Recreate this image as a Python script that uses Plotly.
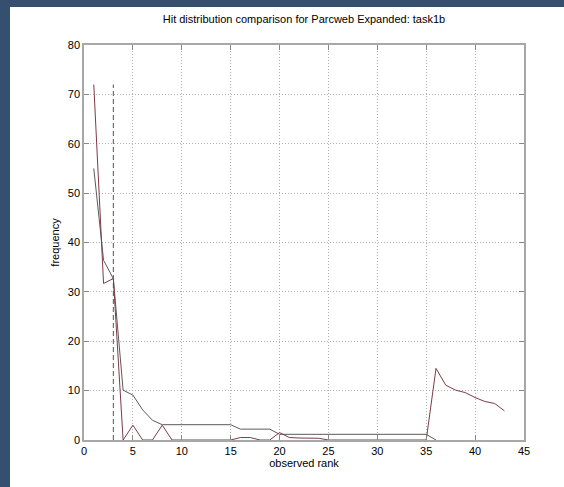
import plotly.graph_objects as go

# Data
rank_red = list(range(1, 44))
freq_red = [72, 31.7, 32.7, 0, 3, 0, 0, 3, 0, 0,
            0, 0, 0, 0, 0, 0.5, 0.5, 0, 0, 1.5,
            0.5, 0.4, 0.4, 0.35, 0, 0, 0, 0, 0, 0,
            0, 0, 0, 0, 0, 14.5, 11.1, 10.1, 9.6, 8.6,
            7.8, 7.4, 5.9]

rank_gray = list(range(1, 37))
freq_gray = [55, 36.4, 32.7, 10.1, 9.1, 6.1, 4, 3.1, 3.1, 3.1,
             3.1, 3.1, 3.1, 3.1, 3.1, 2.2, 2.2, 2.2, 2.2, 1.15,
             1.15, 1.15, 1.15, 1.15, 1.15, 1.15, 1.15, 1.15, 1.15, 1.15,
             1.15, 1.15, 1.15, 1.15, 1.15, 0]

cutoff_x = [3, 3]
cutoff_y = [0, 72]

x_ticks = [0, 5, 10, 15, 20, 25, 30, 35, 40, 45]
y_ticks = [0, 10, 20, 30, 40, 50, 60, 70, 80]

W, H = 564, 487
L, R, T, B = 84, 524, 45, 440
FONT = "Liberation Sans, Arial, sans-serif"

fig = go.Figure()
fig.add_trace(go.Scatter(x=rank_gray, y=freq_gray, mode="lines",
                         line=dict(color="#5a5a5a", width=1), showlegend=False))
fig.add_trace(go.Scatter(x=rank_red, y=freq_red, mode="lines",
                         line=dict(color="#7d3b47", width=1), showlegend=False))
fig.add_trace(go.Scatter(x=cutoff_x, y=cutoff_y, mode="lines",
                         line=dict(color="#555555", width=1, dash="5px,3px"), showlegend=False))

def px2paper_x(px):
    return (px - L) / (R - L)

def px2paper_y(py):
    return (B - py) / (B - T)

fig.add_shape(type="rect", xref="paper", yref="paper",
              x0=px2paper_x(10), x1=px2paper_x(W + 10),
              y0=px2paper_y(H + 10), y1=px2paper_y(7),
              fillcolor="white", line=dict(width=0), layer="below")

axis_common = dict(showgrid=True, gridcolor="#b0b0b0", griddash="1px,2px", gridwidth=1,
                   showline=True, linecolor="#a8a8a8", linewidth=1.5, mirror="ticks",
                   ticks="inside", ticklen=5, tickcolor="#888888", zeroline=False,
                   tickfont=dict(family=FONT, size=11, color="black"))

fig.update_layout(
    width=W, height=H,
    margin=dict(l=L, r=W - R, t=T, b=H - B, pad=0),
    paper_bgcolor="#34506e",
    plot_bgcolor="white",
    title=dict(text="Hit distribution comparison for Parcweb Expanded: task1b",
               x=(L + R) / 2 / W, xanchor="center", y=1 - 19 / H, yanchor="middle",
               font=dict(family=FONT, size=11, color="black")),
    xaxis=dict(range=[0, 45], tickvals=x_ticks, ticktext=[str(v) for v in x_ticks],
               title=dict(text="observed rank", standoff=3,
                          font=dict(family=FONT, size=11, color="black")),
               **axis_common),
    yaxis=dict(range=[0, 80], tickvals=y_ticks, ticktext=[str(v) for v in y_ticks],
               title=dict(text="frequency", standoff=6,
                          font=dict(family=FONT, size=11, color="black")),
               **axis_common),
)

fig.write_html("out.html", config={"displayModeBar": False},
               post_script="document.body.style.margin='0';document.body.style.padding='0';")
